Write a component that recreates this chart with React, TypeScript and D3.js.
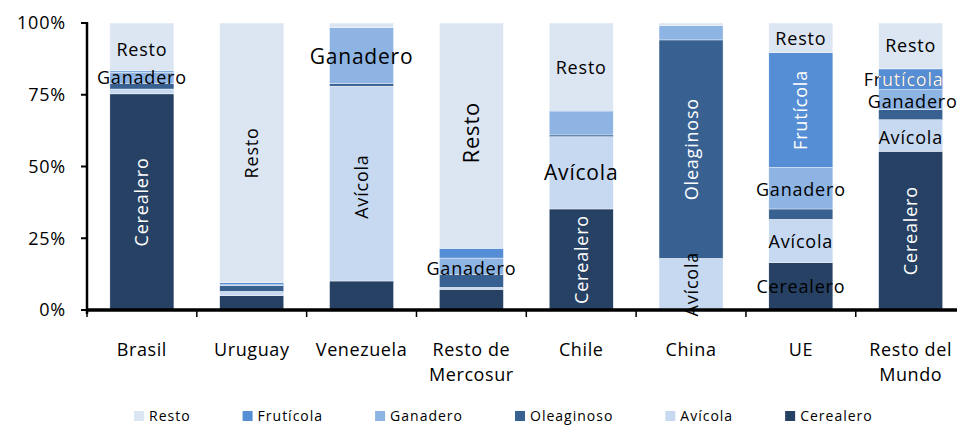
import React, { useEffect, useRef } from "react";
import * as d3 from "d3";

// categorias y participacion (%) de cada complejo
const categories = [
  "Brasil",
  "Uruguay",
  "Venezuela",
  "Resto de Mercosur",
  "Chile",
  "China",
  "UE",
  "Resto del Mundo",
];
const cerealero = [75.3, 5.0, 10.1, 7.2, 35.2, 0, 16.5, 55.3];
const avicola = [1.7, 1.5, 67.9, 0.7, 25.2, 18.0, 15.1, 11.0];
const oleaginoso = [2.0, 2.0, 0.9, 4.4, 0.6, 76.1, 3.6, 3.5];
const ganadero = [3.8, 0.3, 19.5, 5.8, 8.1, 5.0, 14.5, 7.0];
const fruticola = [0.5, 0.7, 0, 3.4, 0.5, 0, 40.0, 7.2];
const resto = [16.7, 90.5, 1.6, 78.5, 30.4, 0.9, 10.3, 16.0];

const seriesNames = ["Cerealero", "Avícola", "Oleaginoso", "Ganadero", "Frutícola", "Resto"];
const seriesValues = [cerealero, avicola, oleaginoso, ganadero, fruticola, resto];
const seriesColors = ["#264163", "#c6d9f1", "#386192", "#8eb4e3", "#558ed5", "#dce6f2"];
const legendOrder = ["Resto", "Frutícola", "Ganadero", "Oleaginoso", "Avícola", "Cerealero"];
const yTicks = [0, 25, 50, 75, 100];

// etiquetas de datos: categoria, serie, vertical?, color, tamaño
const dataLabels = [
  { cat: "Brasil", s: "Resto", vert: false, color: "#000", size: 18, dy: 3 },
  { cat: "Brasil", s: "Ganadero", vert: false, color: "#000", size: 18, dy: 0 },
  { cat: "Brasil", s: "Cerealero", vert: true, color: "#fff", size: 18, dy: 0 },
  { cat: "Uruguay", s: "Resto", vert: true, color: "#000", size: 18, dy: 0 },
  { cat: "Venezuela", s: "Ganadero", vert: false, color: "#000", size: 21, dy: 1 },
  { cat: "Venezuela", s: "Avícola", vert: true, color: "#000", size: 18, dy: 3 },
  { cat: "Resto de Mercosur", s: "Resto", vert: true, color: "#000", size: 22, dy: -3 },
  { cat: "Resto de Mercosur", s: "Ganadero", vert: false, color: "#000", size: 18, dy: 2 },
  { cat: "Chile", s: "Resto", vert: false, color: "#000", size: 18, dy: 1 },
  { cat: "Chile", s: "Avícola", vert: false, color: "#000", size: 21, dy: 0 },
  { cat: "Chile", s: "Cerealero", vert: true, color: "#fff", size: 18, dy: 0 },
  { cat: "China", s: "Oleaginoso", vert: true, color: "#fff", size: 18, dy: 0 },
  { cat: "China", s: "Avícola", vert: true, color: "#000", size: 18, dy: 0 },
  { cat: "UE", s: "Resto", vert: false, color: "#000", size: 18, dy: 1 },
  { cat: "UE", s: "Frutícola", vert: true, color: "#fff", size: 18, dy: 0 },
  { cat: "UE", s: "Ganadero", vert: false, color: "#000", size: 18, dy: 1 },
  { cat: "UE", s: "Avícola", vert: false, color: "#000", size: 18, dy: 1 },
  { cat: "UE", s: "Cerealero", vert: false, color: "#000", size: 18, dy: 0 },
  { cat: "Resto del Mundo", s: "Resto", vert: false, color: "#000", size: 18, dy: 0 },
  { cat: "Resto del Mundo", s: "Frutícola", vert: false, color: "split", size: 18, dy: 0, dx: -7 },
  { cat: "Resto del Mundo", s: "Ganadero", vert: false, color: "#000", size: 18, dy: 2, dx: 2 },
  { cat: "Resto del Mundo", s: "Avícola", vert: false, color: "#000", size: 18, dy: 2 },
  { cat: "Resto del Mundo", s: "Cerealero", vert: true, color: "#fff", size: 18, dy: 0 },
];

const FONT = "'Open Sans', 'Noto Sans', sans-serif";

export default function App() {
  const svgRef = useRef<SVGSVGElement>(null);

  useEffect(() => {
    const width = 957;
    const height = 427;
    const svg = d3.select(svgRef.current);
    svg.selectAll("*").remove();
    svg.attr("width", width).attr("height", height);

    const x = d3
      .scaleBand()
      .domain(categories)
      .range([87, 965.6])
      .paddingInner(0.417)
      .paddingOuter(0.2085);
    const y = d3.scaleLinear().domain([0, 100]).range([310, 23]);

    const rows = categories.map((c, i) => {
      const r: any = { cat: c };
      seriesNames.forEach((s, j) => (r[s] = seriesValues[j][i]));
      return r;
    });
    const stacked = d3.stack().keys(seriesNames)(rows);

    const g = svg.append("g");

    // barras
    stacked.forEach((layer, j) => {
      g.append("g")
        .selectAll("rect")
        .data(layer)
        .join("rect")
        .attr("x", (d: any) => x(d.data.cat))
        .attr("width", x.bandwidth())
        .attr("y", (d) => y(d[1]))
        .attr("height", (d) => Math.max(0, y(d[0]) - y(d[1])))
        .attr("fill", seriesColors[j])
        .attr("stroke", "#fff")
        .attr("stroke-width", 0.4);
    });

    // eje y
    const axisG = svg.append("g").attr("font-family", FONT);
    axisG
      .append("line")
      .attr("x1", 87)
      .attr("x2", 87)
      .attr("y1", y(100) - 1)
      .attr("y2", y(0) + 4)
      .attr("stroke", "#000")
      .attr("stroke-width", 2.5);
    yTicks.forEach((t) => {
      axisG
        .append("line")
        .attr("x1", 81)
        .attr("x2", 87)
        .attr("y1", y(t))
        .attr("y2", y(t))
        .attr("stroke", "#000")
        .attr("stroke-width", 2);
      axisG
        .append("text")
        .attr("x", 66)
        .attr("y", y(t))
        .attr("dy", "0.36em")
        .attr("text-anchor", "end")
        .attr("font-size", 18)
        .attr("letter-spacing", 0.8)
        .attr("fill", "#000")
        .text(`${t}%`);
    });

    // eje x
    const [x0, x1] = x.range();
    axisG
      .append("line")
      .attr("x1", x0)
      .attr("x2", x1)
      .attr("y1", y(0))
      .attr("y2", y(0))
      .attr("stroke", "#000")
      .attr("stroke-width", 3.5);
    const step = x.step();
    d3.range(categories.length + 1).forEach((k) => {
      axisG
        .append("line")
        .attr("x1", x0 + k * step)
        .attr("x2", x0 + k * step)
        .attr("y1", y(0))
        .attr("y2", y(0) + 7)
        .attr("stroke", "#000")
        .attr("stroke-width", 1.5);
    });
    categories.forEach((c) => {
      const words = c.split(" ");
      const lines = words.length > 2 ? [words.slice(0, 2).join(" "), words.slice(2).join(" ")] : [c];
      const cx = x(c)! + x.bandwidth() / 2;
      lines.forEach((ln, li) => {
        axisG
          .append("text")
          .attr("x", cx)
          .attr("y", 356 + li * 25)
          .attr("text-anchor", "middle")
          .attr("font-size", 18)
          .attr("letter-spacing", 0.6)
          .attr("fill", "#000")
          .text(ln);
      });
    });

    // etiquetas de datos
    const labG = svg.append("g").attr("font-family", FONT);
    const defs = svg.append("defs");
    dataLabels.forEach((lb, li) => {
      const j = seriesNames.indexOf(lb.s);
      const i = categories.indexOf(lb.cat);
      const d = stacked[j][i];
      const cx = x(lb.cat)! + x.bandwidth() / 2 + ((lb as any).dx || 0);
      const cy = (y(d[0]) + y(d[1])) / 2 + lb.dy;
      const addText = (fill: string) =>
        labG
          .append("text")
          .attr("x", cx)
          .attr("y", cy)
          .attr("dy", "0.36em")
          .attr("text-anchor", "middle")
          .attr("font-size", lb.size)
          .attr("letter-spacing", 0.8)
          .attr("fill", fill)
          .attr("transform", lb.vert ? `rotate(-90, ${cx}, ${cy})` : null)
          .text(lb.s);
      if (lb.color === "split") {
        addText("#000");
        const id = `clip-${li}`;
        defs
          .append("clipPath")
          .attr("id", id)
          .append("rect")
          .attr("x", x(lb.cat)!)
          .attr("width", x.bandwidth())
          .attr("y", y(d[1]))
          .attr("height", y(d[0]) - y(d[1]));
        addText("#fff").attr("clip-path", `url(#${id})`);
      } else {
        addText(lb.color);
      }
    });

    // leyenda
    const leg = svg.append("g").attr("font-family", FONT);
    let lx = 134;
    legendOrder.forEach((s) => {
      const j = seriesNames.indexOf(s);
      leg
        .append("rect")
        .attr("x", lx)
        .attr("y", 411)
        .attr("width", 10)
        .attr("height", 10)
        .attr("fill", seriesColors[j]);
      const t = leg
        .append("text")
        .attr("x", lx + 15)
        .attr("y", 421)
        .attr("font-size", 14)
        .attr("letter-spacing", 1)
        .attr("fill", "#000")
        .text(s);
      const w = (t.node() as SVGTextElement).getComputedTextLength();
      lx = lx + 15 + w + 52;
    });
  }, []);

  return (
    <svg
      ref={svgRef}
      style={{ position: "absolute", left: 0, top: 0, display: "block", background: "#fff" }}
    ></svg>
  );
}
